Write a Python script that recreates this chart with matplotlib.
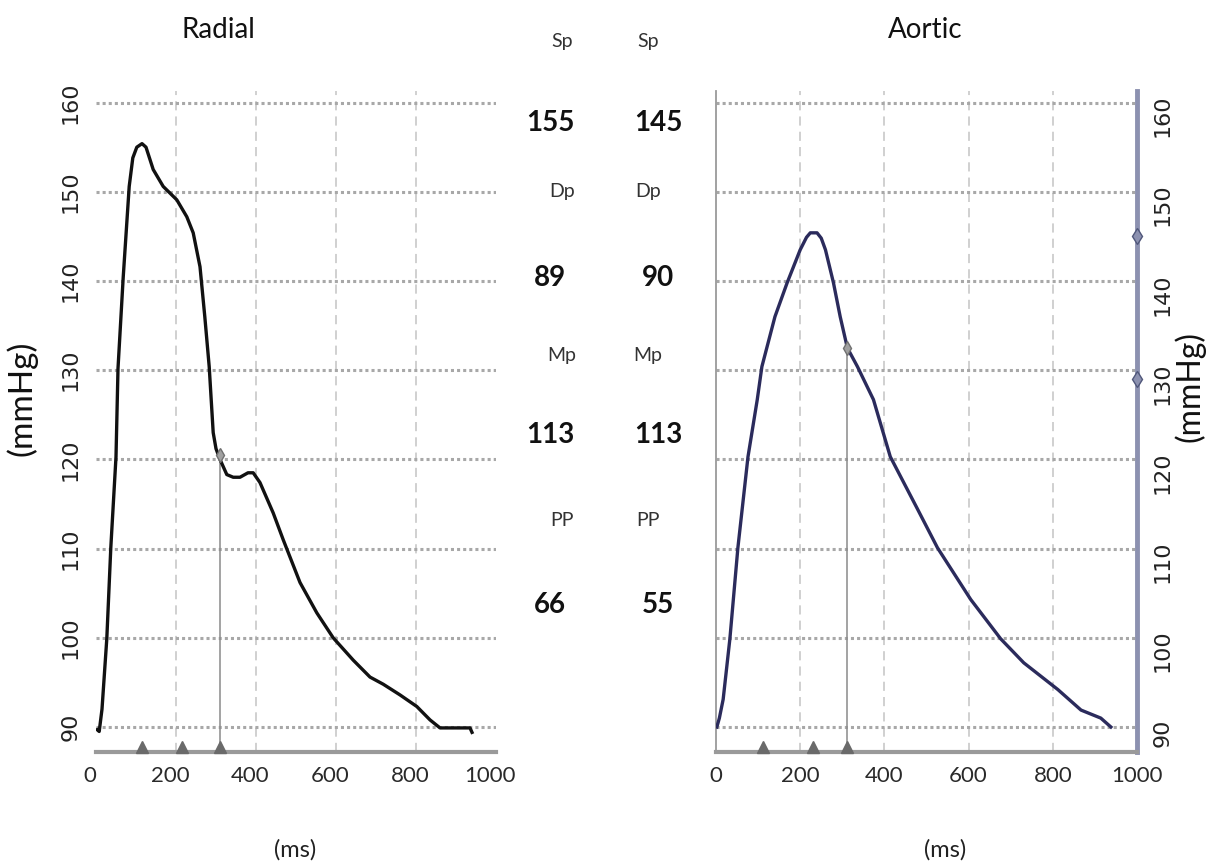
import matplotlib
matplotlib.use("Agg")
import matplotlib.pyplot as plt
import matplotlib.transforms as mtransforms
import numpy as np

# ---- data ----
radial_t = [3, 8, 15, 27, 37, 50, 55, 68, 83, 92, 102, 115, 125, 143, 168, 202,
            227, 243, 260, 272, 283, 293, 300, 310, 327, 343, 360, 380, 393,
            410, 443, 468, 510, 552, 593, 643, 685, 718, 760, 802, 835, 860,
            935, 940]
radial_p = [89.7, 89.5, 92.0, 99.9, 110.1, 120.3, 130.2, 140.4, 150.6, 153.8,
            155.0, 155.4, 155.0, 152.5, 150.6, 149.1, 147.2, 145.4, 141.6,
            136.0, 130.4, 123.0, 121.2, 120.0, 118.3, 118.0, 118.0, 118.5,
            118.5, 117.4, 114.0, 111.0, 106.2, 102.8, 100.0, 97.5, 95.6, 94.8,
            93.6, 92.3, 90.8, 89.9, 89.9, 89.4]

aortic_t = [2, 8, 17, 33, 52, 76, 98, 109, 140, 169, 200, 215, 224, 240, 250,
            260, 279, 295, 312, 336, 374, 414, 479, 526, 605, 676, 731, 812,
            867, 914, 938]
aortic_p = [90.0, 91.0, 93.1, 99.9, 110.1, 120.3, 126.7, 130.4, 136.0, 139.8,
            143.5, 144.9, 145.4, 145.4, 144.8, 143.5, 139.8, 136.0, 132.5,
            130.4, 126.7, 120.3, 114.4, 110.1, 104.3, 99.9, 97.2, 94.2, 91.9,
            91.0, 90.0]

radial_marks = [115, 215, 310]
aortic_marks = [112, 231, 312]
radial_reflect = (310, 120.5)
aortic_reflect = (312, 132.5)
aortic_spine_marks = [145, 129]

x_ticks = [0, 200, 400, 600, 800, 1000]
x_grid = [200, 400, 600, 800]
y_ticks = [90, 100, 110, 120, 130, 140, 150, 160]
ylims = (87.2, 161.3)

labels = ["Sp", "Dp", "Mp", "PP"]
radial_vals = ["155", "89", "113", "66"]
aortic_vals = ["145", "90", "113", "55"]

W, H = 1208, 866
fig = plt.figure(figsize=(W / 100, H / 100), dpi=100)


def px(x, y):
    return x / W, 1 - y / H


ax1 = fig.add_axes([96 / W, 1 - 752 / H, 400 / W, 661 / H])
ax2 = fig.add_axes([716 / W, 1 - 752 / H, 421 / W, 661 / H])

for ax in (ax1, ax2):
    ax.set_xlim(0, 1000)
    ax.set_ylim(*ylims)
    ax.set_xticks(x_ticks)
    ax.set_yticks(y_ticks)
    ax.yaxis.grid(True, linestyle=(0, (1, 1)), color="#a8a8a8", lw=2.2)
    ax.set_axisbelow(True)
    for gx in x_grid:
        ax.axvline(gx, color="#c4c4c4", lw=1.1, linestyle=(0, (6, 4)), zorder=0.5)
    ax.tick_params(length=0)
    ax.tick_params(axis="x", labelsize=16, pad=10, labelcolor="#2a2a2a")
    ax.tick_params(axis="y", labelsize=16, pad=11, labelcolor="#222222",
                   labelrotation=90)
    for lbl in ax.get_xticklabels():
        lbl.set_family("Lato")
    for lbl in ax.get_yticklabels():
        lbl.set_va("center")
    ax.spines["top"].set_visible(False)
    ax.spines["bottom"].set_color("#9a9a9a")
    ax.spines["bottom"].set_linewidth(3)

# left panel
ax1.spines["left"].set_visible(False)
ax1.spines["right"].set_visible(False)
shift = mtransforms.ScaledTranslation(-6 / 100, 0, fig.dpi_scale_trans)
for lbl in ax1.get_xticklabels():
    lbl.set_transform(lbl.get_transform() + shift)

ax1.plot(radial_t, radial_p, color="#111111", lw=2.4, solid_joinstyle="round",
         zorder=3)
ax1.plot([radial_reflect[0]] * 2, [ylims[0], radial_reflect[1]], color="#8a8a8a",
         lw=1.1, zorder=2)
ax1.plot(*radial_reflect, marker="d", ms=7, color="#a0a0a0", mec="#707070",
         zorder=4)
ax1.plot(radial_marks, [ylims[0] + 0.6] * len(radial_marks), ls="none",
         marker="^", ms=8, color="#6a6a6a", clip_on=False, zorder=5)

# right panel
ax2.yaxis.tick_right()
ax2.spines["left"].set_color("#9a9a9a")
ax2.spines["left"].set_linewidth(1.3)
ax2.spines["right"].set_color("#8c91b0")
ax2.spines["right"].set_linewidth(3.5)
ax2.plot(aortic_t, aortic_p, color="#2b2b5c", lw=2.4, solid_joinstyle="round",
         zorder=3)
ax2.plot([aortic_reflect[0]] * 2, [ylims[0], aortic_reflect[1]], color="#8a8a8a",
         lw=1.1, zorder=2)
ax2.plot(*aortic_reflect, marker="d", ms=7, color="#a0a0a0", mec="#707070",
         zorder=4)
ax2.plot(aortic_marks, [ylims[0] + 0.6] * len(aortic_marks), ls="none",
         marker="^", ms=8, color="#6a6a6a", clip_on=False, zorder=5)
ax2.plot([1000] * len(aortic_spine_marks), aortic_spine_marks, ls="none",
         marker="d", ms=8, color="#8c91b0", mec="#50577a", clip_on=False, zorder=5)

# titles and axis texts
fig.text(*px(218, 30), "Radial", family="Lato", fontsize=20, ha="center",
         va="center", color="#111111")
fig.text(*px(925, 30), "Aortic", family="Lato", fontsize=20, ha="center",
         va="center", color="#111111")
fig.text(*px(295, 850), "(ms)", family="Lato", fontsize=17, ha="center",
         va="center", color="#222222")
fig.text(*px(945, 850), "(ms)", family="Lato", fontsize=17, ha="center",
         va="center", color="#222222")
fig.text(*px(22, 398), "(mmHg)", family="Lato", fontsize=24, rotation=90,
         ha="center", va="center", color="#111111")
fig.text(*px(1190, 387), "(mmHg)", family="Lato", fontsize=23, rotation=90,
         ha="center", va="center", color="#111111")

# summary values between the panels
label_y = [42, 192, 355, 520]
value_y = [123, 278, 435, 605]
for i, name in enumerate(labels):
    fig.text(*px(562, label_y[i]), name, family="Lato", fontsize=14,
             ha="center", va="center", color="#333333")
    fig.text(*px(648, label_y[i]), name, family="Lato", fontsize=14,
             ha="center", va="center", color="#333333")
    fig.text(*px(550, value_y[i]), radial_vals[i], family="Lato", fontsize=20,
             fontweight="bold", ha="center", va="center", color="#111111")
    fig.text(*px(658, value_y[i]), aortic_vals[i], family="Lato", fontsize=20,
             fontweight="bold", ha="center", va="center", color="#111111")

fig.savefig("out.png", dpi=100, facecolor="white")
